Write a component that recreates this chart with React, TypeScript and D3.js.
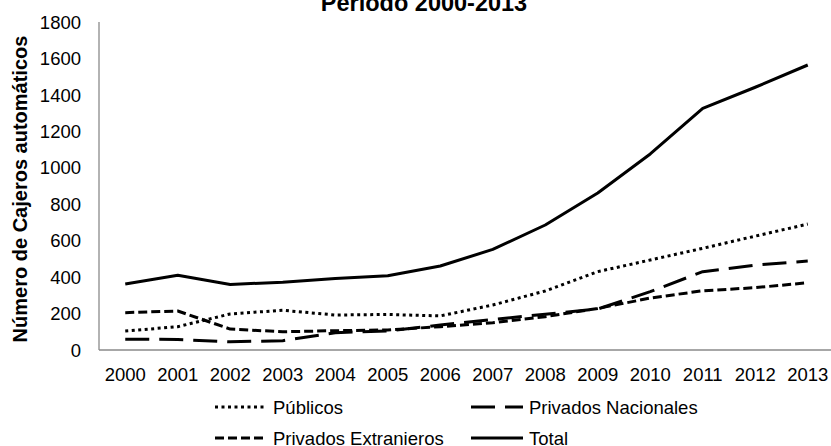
import React from "react";
import * as d3 from "d3";

// Cajeros automáticos por tipo de banco, 2000-2013
const years = ["2000", "2001", "2002", "2003", "2004", "2005", "2006", "2007", "2008", "2009", "2010", "2011", "2012", "2013"];
const publicos = [104, 128, 198, 218, 192, 195, 187, 247, 324, 430, 494, 558, 625, 691];
const privadosNacionales = [59, 58, 45, 51, 95, 105, 137, 168, 196, 225, 320, 430, 466, 488];
const privadosExtranjeros = [205, 214, 115, 100, 106, 110, 128, 150, 183, 228, 285, 325, 342, 369];
const total = [362, 410, 360, 372, 392, 408, 461, 552, 686, 862, 1076, 1326, 1442, 1564];
const yTicks = [0, 200, 400, 600, 800, 1000, 1200, 1400, 1600, 1800];

const seriesNames = ["Públicos", "Privados Nacionales", "Privados Extranieros", "Total"];

const FONT = "'Liberation Sans', Arial, Helvetica, sans-serif";

const W = 831;
const H = 446;

export default function App() {
  const x = d3.scaleBand<string>().domain(years).range([99, 834]).padding(0);
  const y = d3.scaleLinear().domain([0, 1800]).range([350, 22]);
  const cx = (d: string) => (x(d) as number) + x.bandwidth() / 2;

  const line = d3
    .line<number>()
    .x((_, i) => cx(years[i]))
    .y((v) => y(v));

  const series = [
    { name: seriesNames[0], values: publicos, dash: "3 3.5" },
    { name: seriesNames[1], values: privadosNacionales, dash: "24 10" },
    { name: seriesNames[2], values: privadosExtranjeros, dash: "9 4" },
    { name: seriesNames[3], values: total, dash: "none" },
  ];

  const legend = [
    { s: series[0], x: 215, y: 407 },
    { s: series[1], x: 471, y: 407 },
    { s: series[2], x: 215, y: 438 },
    { s: series[3], x: 471, y: 438 },
  ];

  return (
    <svg
      width={W}
      height={H}
      viewBox={`0 0 ${W} ${H}`}
      style={{ position: "absolute", left: 0, top: 0, background: "#fff" }}
      fontFamily={FONT}
    >
      <rect x={0} y={0} width={W} height={H} fill="#fff" />

      {/* title */}
      <text x={424} y={11} textAnchor="middle" fontSize={23.5} fontWeight="bold" fill="#000">
        Período 2000-2013
      </text>

      {/* y axis title */}
      <text
        transform="translate(27,189) rotate(-90)"
        textAnchor="middle"
        fontSize={20}
        fontWeight="bold"
        fill="#000"
      >
        Número de Cajeros automáticos
      </text>

      {/* axes */}
      <line x1={99} x2={99} y1={y(1800)} y2={y(0)} stroke="#8a8a8a" strokeWidth={1.3} />
      <line x1={99} x2={831} y1={y(0)} y2={y(0)} stroke="#8a8a8a" strokeWidth={1.3} />

      {yTicks.map((t) => (
        <text key={t} x={81} y={y(t)} dy="0.36em" textAnchor="end" fontSize={18.5} fill="#000">
          {t}
        </text>
      ))}

      {years.map((yr) => (
        <text key={yr} x={cx(yr)} y={381} textAnchor="middle" fontSize={18.5} fill="#000">
          {yr}
        </text>
      ))}

      {/* series */}
      {series.map((s) => (
        <path
          key={s.name}
          d={line(s.values) || ""}
          fill="none"
          stroke="#000"
          strokeWidth={3}
          strokeDasharray={s.dash}
          strokeLinejoin="round"
        />
      ))}

      {/* legend */}
      {legend.map(({ s, x: lx, y: ly }) => (
        <g key={s.name}>
          <line
            x1={lx}
            x2={lx + 52}
            y1={ly}
            y2={ly}
            stroke="#000"
            strokeWidth={3}
            strokeDasharray={s.dash}
          />
          <text x={lx + 58} y={ly} dy="0.36em" fontSize={18.5} fill="#000">
            {s.name}
          </text>
        </g>
      ))}
    </svg>
  );
}
